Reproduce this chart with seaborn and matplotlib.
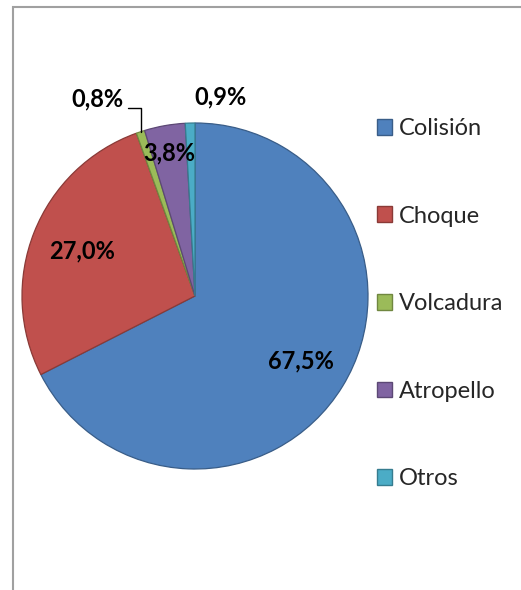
import numpy as np
import matplotlib
matplotlib.use("Agg")
import matplotlib.pyplot as plt
import matplotlib.colors as mcolors
from matplotlib.patches import Rectangle, Patch
from matplotlib.lines import Line2D
import seaborn as sns

# ── Data ──────────────────────────────────────────────────────────────────────
categories = ["Colisión", "Choque", "Volcadura", "Atropello", "Otros"]
shares = [67.5, 27.0, 0.8, 3.8, 0.9]
colors = ["#4F81BD", "#C0504D", "#9BBB59", "#8064A2", "#4BACC6"]

sns.set_style("white")
plt.rcParams["font.family"] = ["Lato", "DejaVu Sans"]

W, H = 521, 590
fig = plt.figure(figsize=(W / 100, H / 100), dpi=100)

# pie centre ~ (195, 296) px, radius ~173 px
cx, cy, r = 195, 296, 173
ax = fig.add_axes([(cx - r) / W, (H - cy - r) / H, 2 * r / W, 2 * r / H])

wedges, _ = ax.pie(shares, colors=colors, startangle=90, counterclock=False,
                   radius=1.0, wedgeprops=dict(linewidth=0.9))
for w, c in zip(wedges, colors):
    w.set_edgecolor(np.array(mcolors.to_rgb(c)) * 0.72)
ax.set_xlim(-1, 1)
ax.set_ylim(-1, 1)
ax.set_aspect("equal")
ax.axis("off")

def pct(v):
    return f"{v:.1f}%".replace(".", ",")

# label radius and angle shift (deg) per slice, Excel-like placement
lab_r = [0.72, 0.70, 1.27, 0.84, 1.16]
lab_shift = [0, 0, 8, 0, -9]
for w, v, rr, sh in zip(wedges, shares, lab_r, lab_shift):
    mid = np.deg2rad((w.theta1 + w.theta2) / 2 + sh)
    ax.text(rr * np.cos(mid), rr * np.sin(mid), pct(v), ha="center", va="center",
            fontsize=17, fontweight="bold", color="black", clip_on=False)

# leader line for Volcadura
wv = wedges[2]
mv = np.deg2rad((wv.theta1 + wv.theta2) / 2)
ex, ey = np.cos(mv), np.sin(mv)
ax.add_line(Line2D([ex, ex, ex - 0.075], [ey, ey + 0.138, ey + 0.138],
                   color="black", linewidth=1.0, clip_on=False))

# legend
handles = [Patch(facecolor=c, edgecolor=np.array(mcolors.to_rgb(c)) * 0.72, linewidth=1.0)
           for c in colors]
fig.legend(handles, categories, loc="upper left",
           bbox_to_anchor=(377 / W, 1 - 118 / H), frameon=False, fontsize=17,
           handlelength=0.64, handleheight=0.64, handletextpad=0.28,
           labelspacing=2.82, borderpad=0, borderaxespad=0)

# chart-area border (top & left visible)
fig.add_artist(Rectangle((13 / W, -0.1), 1.0, 1.1 - 7 / H, transform=fig.transFigure,
                         fill=False, edgecolor="#A0A0A0", linewidth=1.5))

fig.savefig("out.png", dpi=100)
